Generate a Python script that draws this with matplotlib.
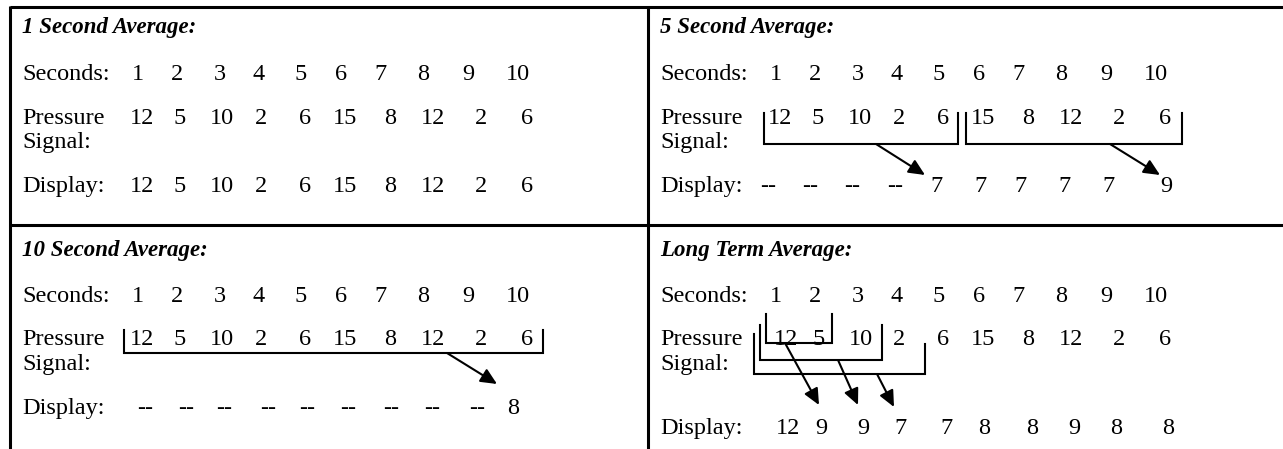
import matplotlib.pyplot as plt

# Data
seconds = [1, 2, 3, 4, 5, 6, 7, 8, 9, 10]
pressure = [12, 5, 10, 2, 6, 15, 8, 12, 2, 6]
titles = ['1 Second Average:', '5 Second Average:',
          '10 Second Average:', 'Long Term Average:']
display_1s = ['12', '5', '10', '2', '6', '15', '8', '12', '2', '6']
display_5s = ['--', '--', '--', '--', '7', '7', '7', '7', '7', '9']
display_10s = ['--', '--', '--', '--', '--', '--', '--', '--', '--', '8']
display_lt = ['12', '9', '9', '7', '7', '8', '8', '9', '8', '8']

# Layout (pixels, figure is 1283 x 449)
W, H = 1283, 449
panels = [(10, 7), (648, 7), (10, 225), (648, 225)]
sec_x = [128, 167, 210, 249, 291, 331, 371, 413, 458, 508]
val_x = [132, 170, 212, 251, 295, 335, 380, 423, 471, 517]
val_x_lt = [138, 171, 213, 251, 295, 335, 380, 423, 471, 517]
pres_x = [val_x, val_x, val_x, val_x_lt]
disp_x = [val_x,
          [120, 162, 204, 247, 289, 333, 373, 416, 460, 518],
          [135, 176, 214, 258, 297, 338, 381, 422, 467, 503],
          [140, 173, 215, 253, 299, 336, 384, 426, 468, 520]]
# baselines inside each panel: title, seconds, pressure, signal
rows_top = [26, 73, 117, 141]
rows_bot = [31, 77, 120, 145]
rows = [rows_top, rows_top, rows_bot, rows_bot]
disp_dy = [185, 185, 189, 209]
displays = [display_1s, display_5s, display_10s, display_lt]

FONT = 'Liberation Serif'
FS = 17.5
FS_TITLE = 16.5
LX = 12

fig = plt.figure(figsize=(W / 100, H / 100), dpi=100)
ax = fig.add_axes([0, 0, 1, 1])
ax.set_xlim(0, W)
ax.set_ylim(H, 0)
ax.axis('off')

# grid lines of the table
lw_frame = 2.2
ax.plot([10, W], [7, 7], color='black', lw=lw_frame, solid_capstyle='butt')
ax.plot([10, W], [225, 225], color='black', lw=lw_frame, solid_capstyle='butt')
ax.plot([10, 10], [6, H], color='black', lw=lw_frame, solid_capstyle='butt')
ax.plot([648, 648], [6, H], color='black', lw=lw_frame, solid_capstyle='butt')

for i, (px, py) in enumerate(panels):
    r = rows[i]
    ax.text(px + LX, py + r[0], titles[i], fontsize=FS_TITLE, family=FONT,
            weight='bold', style='italic', va='baseline')
    ax.text(px + LX, py + r[1], 'Seconds:', fontsize=FS, family=FONT, va='baseline')
    ax.text(px + LX, py + r[2], 'Pressure', fontsize=FS, family=FONT, va='baseline')
    ax.text(px + LX, py + r[3], 'Signal:', fontsize=FS, family=FONT, va='baseline')
    ax.text(px + LX, py + disp_dy[i], 'Display:', fontsize=FS, family=FONT,
            va='baseline')
    for j in range(len(seconds)):
        ax.text(px + sec_x[j], py + r[1], str(seconds[j]), fontsize=FS,
                family=FONT, ha='center', va='baseline')
        ax.text(px + pres_x[i][j], py + r[2], str(pressure[j]), fontsize=FS,
                family=FONT, ha='center', va='baseline')
        ax.text(px + disp_x[i][j], py + disp_dy[i], displays[i][j],
                fontsize=FS, family=FONT, ha='center', va='baseline')


def bracket(x0, x1, top0, top1, bottom):
    ax.plot([x0, x0, x1, x1], [top0, bottom, bottom, top1], color='black',
            lw=1.5, solid_joinstyle='miter')


def arrow(x0, y0, x1, y1):
    ax.annotate('', xy=(x1, y1), xytext=(x0, y0),
                arrowprops=dict(arrowstyle='-|>,head_length=0.65,head_width=0.3',
                                mutation_scale=15, lw=1.5, color='black',
                                shrinkA=0, shrinkB=0))


# 5 second average
bracket(764, 958, 113, 113, 144)
bracket(966, 1182, 113, 113, 144)
arrow(876, 144, 925, 175)
arrow(1110, 144, 1160, 175)

# 10 second average
bracket(124, 543, 330, 330, 353)
arrow(447, 353, 497, 384)

# long term average
bracket(766, 832, 314, 314, 343)
bracket(760, 882, 325, 325, 360)
bracket(754, 925, 334, 344, 374)
arrow(785, 343, 819, 405)
arrow(838, 360, 858, 405)
arrow(877, 374, 894, 407)

fig.savefig('out.png', dpi=100)
